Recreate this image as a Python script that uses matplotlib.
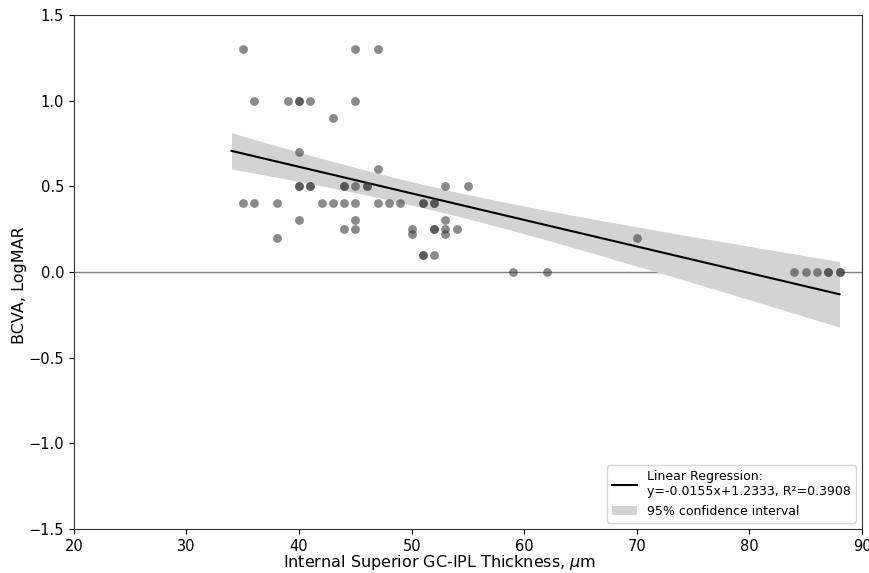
import numpy as np
import matplotlib
matplotlib.use("Agg")
import matplotlib.pyplot as plt

# thickness (um) and BCVA (LogMAR)
thickness = [35, 45, 47,
             36, 39, 40, 40, 41, 45,
             43,
             40,
             47,
             40, 40, 41, 41, 44, 44, 45, 46, 46, 53, 55,
             35, 36, 38, 42, 43, 44, 45, 47, 48, 49, 51, 51, 52, 52,
             40, 45, 53,
             44, 45, 50, 52, 52, 53, 54,
             50, 53,
             38, 70,
             51, 51, 52,
             59, 62, 84, 85, 86, 87, 87, 88, 88]
bcva = [1.3] * 3 + [1.0] * 6 + [0.9] + [0.7] + [0.6] + [0.5] * 11 + [0.4] * 14 \
    + [0.3] * 3 + [0.25] * 7 + [0.22] * 2 + [0.2] * 2 + [0.1] * 3 + [0.0] * 9

slope = -0.0155
intercept = 1.2333
r2 = 0.3908
x_range = [34, 88]

x = np.array(thickness, dtype=float)
y = np.array(bcva, dtype=float)

# confidence band of the mean response
n = len(x)
xs = np.linspace(x_range[0], x_range[1], 200)
yfit = slope * xs + intercept
resid = y - (slope * x + intercept)
s = np.sqrt(np.sum(resid ** 2) / (n - 2))
sxx = np.sum((x - x.mean()) ** 2)
t = 2.0
half = t * s * np.sqrt(1.0 / n + (xs - x.mean()) ** 2 / sxx)

narrow = ["Liberation Sans Narrow", "DejaVu Sans"]

fig = plt.figure(figsize=(8.69, 5.73), dpi=100)
ax = fig.add_axes([0.085, 0.077, 0.907, 0.897])

ax.axhline(0, color="gray", lw=1, zorder=1)
ax.plot(xs, yfit, color="black", lw=1.5, zorder=3,
        label="Linear Regression:\ny=%.4fx+%.4f, R\u00b2=%.4f" % (slope, intercept, r2))
ax.fill_between(xs, yfit - half, yfit + half, color="lightgray",
                lw=0, zorder=2, label="95% confidence interval")
ax.scatter(x, y, s=40, color="#3d3d3d", alpha=0.6, lw=0, zorder=4)

ax.set_xlim(20, 90)
ax.set_ylim(-1.5, 1.5)
ax.set_xticks(range(20, 91, 10))
ax.set_yticks(np.arange(-1.5, 1.51, 0.5))
for lab in ax.get_xticklabels() + ax.get_yticklabels():
    lab.set_family(narrow)
    lab.set_fontsize(10.5)
for sp in ax.spines.values():
    sp.set_color("#333333")

ax.set_xlabel(r"Internal Superior GC-IPL Thickness, $\mu$m", fontsize=11.5,
              family=narrow)
ax.set_ylabel("BCVA, LogMAR", fontsize=11.5, family=narrow)
ax.xaxis.set_label_coords(0.464, -0.047)
ax.yaxis.set_label_coords(-0.06, 0.475)

ax.legend(loc="lower right", fontsize=9)

plt.savefig("out.png", dpi=100)
